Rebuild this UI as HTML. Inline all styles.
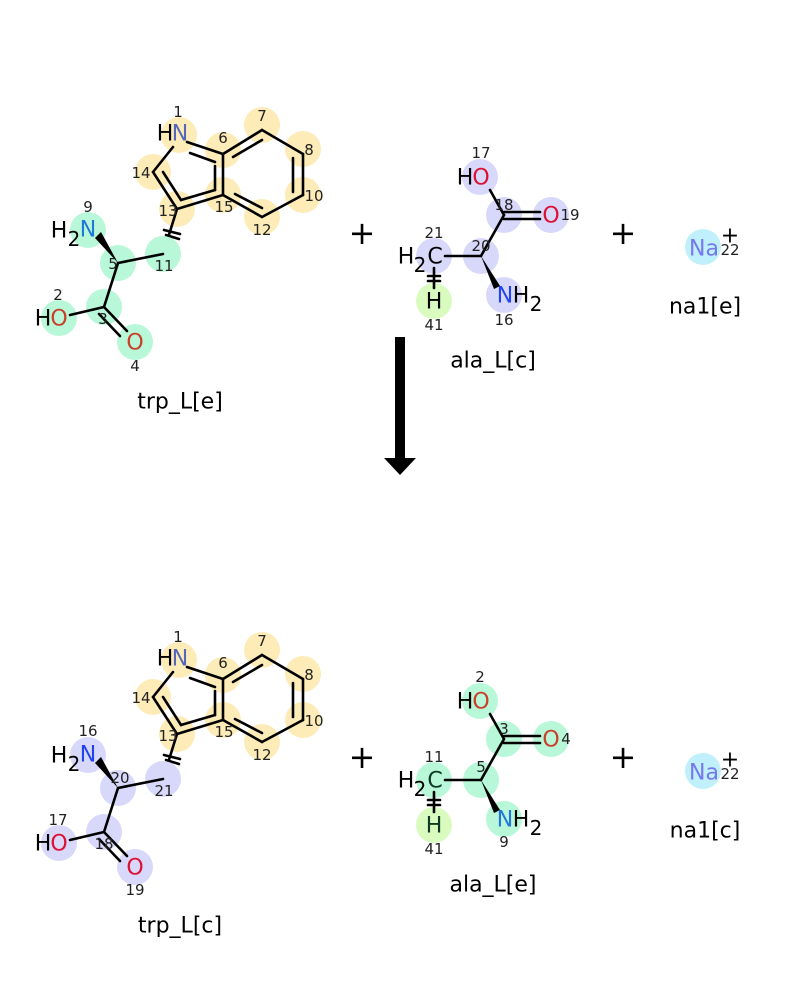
<!DOCTYPE html>
<html><head><meta charset="utf-8"><style>
html,body{margin:0;padding:0;background:#fff}
svg{display:block}
text{font-family:"DejaVu Sans","Liberation Sans",sans-serif}
.a{font-size:22px;text-anchor:middle;dominant-baseline:central}
.s{font-size:20px;text-anchor:middle;dominant-baseline:central}
.n{font-size:15px;text-anchor:middle;dominant-baseline:central;fill:#222}
.l{font-size:22px;text-anchor:middle;dominant-baseline:central;fill:#000}
.b{stroke:#000;stroke-width:2.6;fill:none;stroke-linecap:round}
</style></head><body>
<svg width="800" height="1000" viewBox="0 0 800 1000" xmlns="http://www.w3.org/2000/svg">
<defs>
<g id="ring">
<g fill="#fdecb8">
<circle cx="179" cy="135" r="18"/><circle cx="223" cy="150" r="18"/><circle cx="262" cy="125" r="18"/>
<circle cx="303" cy="149" r="18"/><circle cx="303" cy="195" r="18"/><circle cx="262" cy="217" r="18"/>
<circle cx="223" cy="195" r="18"/><circle cx="177" cy="209" r="18"/><circle cx="153" cy="172" r="18"/>
</g>
<g class="b" stroke="#2e2408">
<line x1="187" y1="142" x2="223" y2="154"/><line x1="223" y1="154" x2="262" y2="130"/><line x1="262" y1="130" x2="303" y2="154"/>
<line x1="303" y1="154" x2="303" y2="195"/><line x1="303" y1="195" x2="262" y2="217"/><line x1="262" y1="217" x2="223" y2="195"/>
<line x1="223" y1="195" x2="223" y2="154"/><line x1="223" y1="195" x2="177" y2="209"/><line x1="177" y1="209" x2="153" y2="172"/>
<line x1="153" y1="172" x2="173" y2="147"/>
<line x1="190" y1="153" x2="215" y2="162"/><line x1="233" y1="157" x2="262" y2="140"/><line x1="293" y1="158" x2="293" y2="192"/>
<line x1="235" y1="194" x2="262" y2="208"/><line x1="215" y1="166" x2="215" y2="190"/><line x1="215" y1="190" x2="181" y2="200"/>
<line x1="181" y1="200" x2="163" y2="172"/>
<line x1="177" y1="209" x2="163" y2="254"/>
<line x1="164" y1="230" x2="180" y2="234"/><line x1="166" y1="235" x2="179" y2="239"/>
</g>
<text class="a" x="165" y="134" fill="#000">H</text><text class="a" x="180" y="134" fill="#5566bb">N</text>
<text class="n" x="178" y="112">1</text><text class="n" x="223" y="138">6</text><text class="n" x="262" y="116">7</text>
<text class="n" x="309" y="150">8</text><text class="n" x="314" y="196">10</text><text class="n" x="262" y="230">12</text>
<text class="n" x="224" y="207">15</text><text class="n" x="168" y="211">13</text><text class="n" x="141" y="173">14</text>
</g>
</defs>

<use href="#ring"/>
<g fill="#b8f7d8">
<circle cx="88" cy="230" r="18"/><circle cx="118" cy="263" r="18"/><circle cx="163" cy="254" r="18"/>
<circle cx="104" cy="307" r="18"/><circle cx="59" cy="318" r="18"/><circle cx="135" cy="342" r="18"/>
</g>
<g class="b" stroke="#0d3a22">
<line x1="118" y1="263" x2="163" y2="254"/><line x1="118" y1="263" x2="104" y2="307"/><line x1="104" y1="307" x2="70" y2="315"/>
<line x1="104" y1="307" x2="127" y2="331"/><line x1="99" y1="314" x2="120" y2="336"/>
</g>
<polygon points="118,263 95,238 101,232" fill="#000"/>
<text class="a" x="59" y="231" fill="#000">H</text><text class="s" x="74" y="239" fill="#000">2</text><text class="a" x="88" y="230" fill="#2277dd">N</text>
<text class="n" x="88" y="207">9</text><text class="n" x="113" y="264">5</text><text class="n" x="164" y="266">11</text>
<text class="a" x="43" y="319" fill="#000">H</text><text class="a" x="59" y="319" fill="#c8402a">O</text>
<text class="n" x="58" y="295">2</text><text class="n" x="103" y="319">3</text>
<text class="a" x="135" y="343" fill="#c8402a">O</text><text class="n" x="135" y="366">4</text>
<text class="l" x="180" y="402">trp_L[e]</text>

<text class="l" x="362" y="233" style="font-size:32px">+</text>
<text class="l" x="623" y="233" style="font-size:32px">+</text>

<g fill="#d8d8fb">
<circle cx="480" cy="177" r="18"/><circle cx="504" cy="215" r="18"/><circle cx="551" cy="215" r="18"/>
<circle cx="481" cy="256" r="18"/><circle cx="434" cy="256" r="18"/><circle cx="504" cy="295" r="18"/>
</g>
<circle cx="434" cy="301" r="18" fill="#d9fbc0"/>
<g class="b">
<line x1="490" y1="190" x2="504" y2="215"/><line x1="504" y1="212" x2="540" y2="212"/><line x1="504" y1="219" x2="540" y2="219"/>
<line x1="504" y1="215" x2="481" y2="256"/><line x1="481" y1="256" x2="445" y2="256"/>
<line x1="434" y1="268" x2="434" y2="288"/><line x1="428" y1="276" x2="440" y2="276"/><line x1="428" y1="281" x2="440" y2="281"/>
</g>
<polygon points="481,256 500,286 494,289" fill="#000"/>
<text class="a" x="465" y="178" fill="#000">H</text><text class="a" x="481" y="178" fill="#dd1133">O</text><text class="n" x="481" y="153">17</text>
<text class="n" x="504" y="205">18</text><text class="a" x="551" y="216" fill="#dd1133">O</text><text class="n" x="570" y="215">19</text>
<text class="n" x="481" y="246">20</text>
<text class="a" x="406" y="257" fill="#000">H</text><text class="s" x="420" y="265" fill="#000">2</text><text class="a" x="435" y="257" fill="#000">C</text><text class="n" x="434" y="233">21</text>
<text class="a" x="434" y="302" fill="#000">H</text><text class="n" x="434" y="325">41</text>
<text class="a" x="505" y="296" fill="#2244ee">N</text><text class="a" x="521" y="296" fill="#000">H</text><text class="s" x="536" y="304" fill="#000">2</text><text class="n" x="504" y="320">16</text>
<text class="l" x="493" y="361">ala_L[c]</text>

<circle cx="703" cy="247" r="18" fill="#bff0fb"/>
<text class="a" x="704" y="249" fill="#7777ee">Na</text><text class="n" x="730" y="250" fill="#000">22</text><text class="a" x="730" y="236" fill="#000">+</text>
<text class="l" x="705" y="307">na1[e]</text>

<rect x="395" y="337" width="10" height="122" fill="#000"/>
<polygon points="384,458 416,458 400,475" fill="#000"/>

<use href="#ring" y="525"/>
<g fill="#d8d8fb">
<circle cx="88" cy="755" r="18"/><circle cx="118" cy="788" r="18"/><circle cx="163" cy="779" r="18"/>
<circle cx="104" cy="832" r="18"/><circle cx="59" cy="843" r="18"/><circle cx="135" cy="867" r="18"/>
</g>
<g class="b">
<line x1="118" y1="788" x2="163" y2="779"/><line x1="118" y1="788" x2="104" y2="832"/><line x1="104" y1="832" x2="70" y2="840"/>
<line x1="104" y1="832" x2="127" y2="856"/><line x1="99" y1="839" x2="120" y2="861"/>
</g>
<polygon points="118,788 95,763 101,757" fill="#000"/>
<text class="a" x="59" y="756" fill="#000">H</text><text class="s" x="74" y="764" fill="#000">2</text><text class="a" x="88" y="755" fill="#2244ee">N</text>
<text class="n" x="88" y="731">16</text><text class="n" x="120" y="778">20</text><text class="n" x="164" y="791">21</text>
<text class="a" x="43" y="844" fill="#000">H</text><text class="a" x="59" y="844" fill="#dd1133">O</text>
<text class="n" x="58" y="820">17</text><text class="n" x="104" y="844">18</text>
<text class="a" x="135" y="868" fill="#dd1133">O</text><text class="n" x="135" y="890">19</text>
<text class="l" x="180" y="926">trp_L[c]</text>

<text class="l" x="362" y="757" style="font-size:32px">+</text>
<text class="l" x="623" y="757" style="font-size:32px">+</text>

<g fill="#b8f7d8">
<circle cx="480" cy="701" r="18"/><circle cx="504" cy="739" r="18"/><circle cx="551" cy="739" r="18"/>
<circle cx="481" cy="780" r="18"/><circle cx="434" cy="780" r="18"/><circle cx="504" cy="819" r="18"/>
</g>
<circle cx="434" cy="825" r="18" fill="#d9fbc0"/>
<g class="b" stroke="#0d3a22">
<line x1="490" y1="714" x2="504" y2="739"/><line x1="504" y1="736" x2="540" y2="736"/><line x1="504" y1="743" x2="540" y2="743"/>
<line x1="504" y1="739" x2="481" y2="780"/><line x1="481" y1="780" x2="445" y2="780"/>
<line x1="434" y1="792" x2="434" y2="812"/><line x1="428" y1="800" x2="440" y2="800"/><line x1="428" y1="805" x2="440" y2="805"/>
</g>
<polygon points="481,780 500,810 494,813" fill="#000"/>
<text class="a" x="465" y="702" fill="#000">H</text><text class="a" x="481" y="702" fill="#c8402a">O</text><text class="n" x="480" y="677">2</text>
<text class="n" x="504" y="729">3</text><text class="a" x="551" y="740" fill="#c8402a">O</text><text class="n" x="566" y="739">4</text>
<text class="n" x="481" y="767">5</text>
<text class="a" x="406" y="781" fill="#000">H</text><text class="s" x="420" y="789" fill="#000">2</text><text class="a" x="435" y="781" fill="#0d3a22">C</text><text class="n" x="434" y="757">11</text>
<text class="a" x="434" y="826" fill="#0d3a22">H</text><text class="n" x="434" y="849">41</text>
<text class="a" x="505" y="820" fill="#2277dd">N</text><text class="a" x="521" y="820" fill="#000">H</text><text class="s" x="536" y="828" fill="#000">2</text><text class="n" x="504" y="842">9</text>
<text class="l" x="493" y="885">ala_L[e]</text>

<circle cx="703" cy="771" r="18" fill="#bff0fb"/>
<text class="a" x="704" y="773" fill="#7777ee">Na</text><text class="n" x="730" y="774" fill="#000">22</text><text class="a" x="730" y="760" fill="#000">+</text>
<text class="l" x="705" y="831">na1[c]</text>
</svg>
</body></html>
